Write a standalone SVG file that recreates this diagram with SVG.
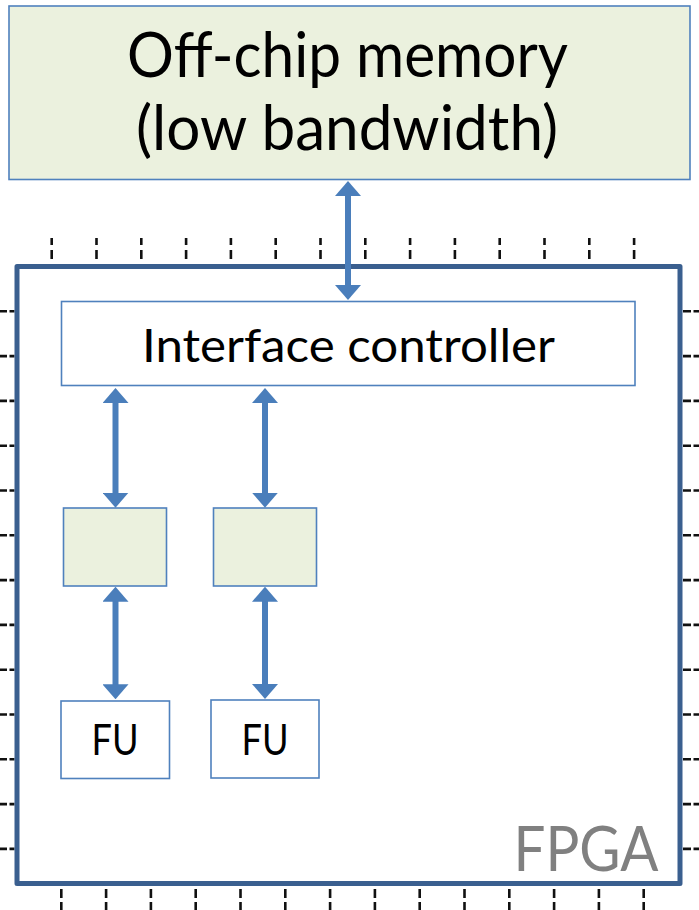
<svg xmlns="http://www.w3.org/2000/svg" width="699" height="910" viewBox="0 0 699 910">
  <style>
    .box { stroke: #4f81bd; stroke-width: 1.6; }
    .plain { fill: #ffffff; }
    .tint { fill: #ebf1de; }
    .label { font-family: Lato, "Open Sans", "Liberation Sans", sans-serif; fill: #000000; text-anchor: middle; }
    .pins { stroke: #111111; stroke-width: 2.6; fill: none; }
    .link { stroke: #4a7ebb; stroke-width: 6; fill: none; }
  </style>
  <defs>
    <marker id="head" viewBox="0 0 15 26" markerUnits="userSpaceOnUse" markerWidth="15" markerHeight="26" refX="5" refY="13" orient="auto-start-reverse">
      <path d="M0,0 L15,13 L0,26 Z" fill="#4a7ebb"/>
    </marker>
  </defs>

  <rect width="699" height="910" fill="#ffffff"/>

  <!-- package pins around the FPGA -->
  <g id="pins" class="pins">
    <path d="M51.7 238V245M51.7 250V259 M96.5 238V245M96.5 250V259 M141.3 238V245M141.3 250V259 M186.1 238V245M186.1 250V259 M230.9 238V245M230.9 250V259 M275.7 238V245M275.7 250V259 M320.5 238V245M320.5 250V259 M365.3 238V245M365.3 250V259 M410.1 238V245M410.1 250V259 M454.9 238V245M454.9 250V259 M499.7 238V245M499.7 250V259 M544.5 238V245M544.5 250V259 M589.3 238V245M589.3 250V259 M634.1 238V245M634.1 250V259"/>
    <path d="M61.3 889V898M61.3 902V910 M106.1 889V898M106.1 902V910 M150.9 889V898M150.9 902V910 M195.7 889V898M195.7 902V910 M240.5 889V898M240.5 902V910 M285.3 889V898M285.3 902V910 M330.1 889V898M330.1 902V910 M374.9 889V898M374.9 902V910 M419.7 889V898M419.7 902V910 M464.5 889V898M464.5 902V910 M509.3 889V898M509.3 902V910 M554.1 889V898M554.1 902V910 M598.9 889V898M598.9 902V910 M643.7 889V898M643.7 902V910"/>
    <path d="M0 311.3H7M9.5 311.3H14.5 M0 356.1H7M9.5 356.1H14.5 M0 400.9H7M9.5 400.9H14.5 M0 445.7H7M9.5 445.7H14.5 M0 490.5H7M9.5 490.5H14.5 M0 535.3H7M9.5 535.3H14.5 M0 580.1H7M9.5 580.1H14.5 M0 624.9H7M9.5 624.9H14.5 M0 669.7H7M9.5 669.7H14.5 M0 714.5H7M9.5 714.5H14.5 M0 759.3H7M9.5 759.3H14.5 M0 804.1H7M9.5 804.1H14.5 M0 848.9H7M9.5 848.9H14.5"/>
    <path d="M683 311.3H691M693.5 311.3H699 M683 356.1H691M693.5 356.1H699 M683 400.9H691M693.5 400.9H699 M683 445.7H691M693.5 445.7H699 M683 490.5H691M693.5 490.5H699 M683 535.3H691M693.5 535.3H699 M683 580.1H691M693.5 580.1H699 M683 624.9H691M693.5 624.9H699 M683 669.7H691M693.5 669.7H699 M683 714.5H691M693.5 714.5H699 M683 759.3H691M693.5 759.3H699 M683 804.1H691M693.5 804.1H699 M683 848.9H691M693.5 848.9H699"/>
  </g>

  <!-- FPGA die outline -->
  <g id="fpga">
    <rect x="17" y="266.5" width="663" height="617" fill="#ffffff" stroke="#3a5f8f" stroke-width="5" stroke-linejoin="round"/>
    <text x="658.5" y="870.5" font-family="Lato, 'Open Sans', 'Liberation Sans', sans-serif" font-size="61" fill="#808080" text-anchor="end" textLength="145" lengthAdjust="spacingAndGlyphs">FPGA</text>
  </g>

  <!-- off-chip memory -->
  <g id="memory">
    <rect class="box tint" x="9" y="6" width="681" height="173.5"/>
    <text class="label" x="347.5" y="76.7" font-size="61" textLength="441" lengthAdjust="spacingAndGlyphs">Off-chip memory</text>
    <text class="label" x="347" y="150" font-size="61" textLength="422" lengthAdjust="spacingAndGlyphs">(low bandwidth)</text>
  </g>

  <g id="interface-controller">
    <rect class="box plain" x="61.5" y="301.5" width="573.5" height="84"/>
    <text class="label" x="348.5" y="361.5" font-size="46" textLength="413" lengthAdjust="spacingAndGlyphs">Interface controller</text>
  </g>

  <g id="buffer-1">
    <rect class="box tint" x="63.5" y="508" width="103" height="78"/>
  </g>
  <g id="buffer-2">
    <rect class="box tint" x="213.5" y="508" width="103" height="78"/>
  </g>

  <g id="fu-1">
    <rect class="box plain" x="61" y="701" width="108.5" height="77.5"/>
    <text class="label" x="115" y="755" font-size="42" textLength="47" lengthAdjust="spacingAndGlyphs">FU</text>
  </g>
  <g id="fu-2">
    <rect class="box plain" x="211" y="700" width="108" height="78"/>
    <text class="label" x="265" y="755" font-size="42" textLength="47" lengthAdjust="spacingAndGlyphs">FU</text>
  </g>

  <!-- bidirectional links -->
  <g id="connectors" class="link">
    <line x1="348" y1="191" x2="348" y2="290" marker-start="url(#head)" marker-end="url(#head)"/>
    <line x1="115.5" y1="398" x2="115.5" y2="497.7" marker-start="url(#head)" marker-end="url(#head)"/>
    <line x1="265" y1="398" x2="265" y2="497.7" marker-start="url(#head)" marker-end="url(#head)"/>
    <line x1="115.5" y1="596.7" x2="115.5" y2="689.3" marker-start="url(#head)" marker-end="url(#head)"/>
    <line x1="265" y1="596.7" x2="265" y2="689" marker-start="url(#head)" marker-end="url(#head)"/>
  </g>
</svg>
